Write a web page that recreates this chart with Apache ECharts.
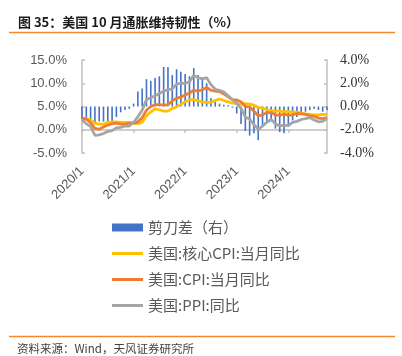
<!DOCTYPE html>
<html>
<head>
<meta charset="utf-8">
<script src="https://cdn.jsdelivr.net/npm/echarts@6/dist/echarts.min.js"></script>
<style>
html,body{margin:0;padding:0;background:#fff;}
#c{width:402px;height:356px;}
</style>
</head>
<body>
<div id="c"></div>
<script>
const months = [
  '2020/1','2020/2','2020/3','2020/4','2020/5','2020/6','2020/7','2020/8','2020/9','2020/10','2020/11','2020/12',
  '2021/1','2021/2','2021/3','2021/4','2021/5','2021/6','2021/7','2021/8','2021/9','2021/10','2021/11','2021/12',
  '2022/1','2022/2','2022/3','2022/4','2022/5','2022/6','2022/7','2022/8','2022/9','2022/10','2022/11','2022/12',
  '2023/1','2023/2','2023/3','2023/4','2023/5','2023/6','2023/7','2023/8','2023/9','2023/10','2023/11','2023/12',
  '2024/1','2024/2','2024/3','2024/4','2024/5','2024/6','2024/7','2024/8','2024/9','2024/10'
];
// 剪刀差（右）
const scissorGap = [
  -1.1,-1.2,-1.2,-1.4,-1.3,-1.3,-1.3,-1.3,-0.9,-0.5,-0.3,-0.2,
  0.25,1.3,1.55,2.35,2.2,2.45,2.6,3.4,3.4,2.7,3.2,3.0,
  2.8,2.6,3.3,2.7,2.5,2.0,0.7,0.4,0.25,0.15,0.1,-0.1,
  -0.6,-1.5,-2.1,-2.5,-2.3,-2.9,-1.75,-1.3,-1.2,-1.9,-2.2,-2.3,
  -1.75,-1.2,-0.9,-0.6,-0.45,-0.3,-0.2,-0.3,-0.45,-0.3
];
// 美国:核心CPI:当月同比
const coreCPI = [
  2.3,2.4,2.1,1.4,1.2,1.2,1.6,1.7,1.7,1.6,1.6,1.6,
  1.4,1.3,1.6,3.0,3.8,4.5,4.3,4.0,4.0,4.6,4.9,5.5,
  6.0,6.4,6.5,6.2,6.0,5.9,5.9,6.3,6.6,6.3,6.0,5.7,
  5.6,5.5,5.6,5.5,5.3,4.8,4.7,4.3,4.1,4.0,4.0,3.9,
  3.9,3.8,3.8,3.6,3.4,3.3,3.2,3.2,3.3,3.3
];
// 美国:CPI:当月同比
const cpi = [
  2.5,2.3,1.5,0.3,0.1,0.6,1.0,1.3,1.4,1.2,1.2,1.4,
  1.4,1.7,2.6,4.2,5.0,5.4,5.4,5.3,5.4,6.2,6.8,7.0,
  7.5,7.9,8.5,8.3,8.6,9.1,8.5,8.3,8.2,7.7,7.1,6.5,
  6.4,6.0,5.0,4.9,4.0,3.0,3.2,3.7,3.7,3.2,3.1,3.4,
  3.1,3.2,3.5,3.4,3.3,3.0,2.9,2.5,2.4,2.6
];
// 美国:PPI:同比
const ppi = [
  2.1,1.3,0.7,-1.2,-1.1,-0.8,-0.4,-0.2,0.4,0.5,0.8,0.8,
  1.6,2.8,4.2,6.5,6.9,7.3,7.8,8.3,8.6,8.8,9.8,10.0,
  10.0,10.3,11.7,11.2,10.9,11.2,9.7,8.7,8.5,8.1,7.3,6.4,
  5.7,4.6,2.7,2.3,1.1,0.1,0.8,1.6,2.2,1.3,0.8,1.0,
  0.9,1.6,1.8,2.2,2.4,2.6,2.1,1.7,1.8,2.4
];
const seriesNames = ['剪刀差（右）','美国:核心CPI:当月同比','美国:CPI:当月同比','美国:PPI:同比'];
const titleText = '图 35：美国 10 月通胀维持韧性（%）';
const sourceText = '资料来源：Wind，天风证券研究所';

const chart = echarts.init(document.getElementById('c'), null, {renderer:'canvas'});
const axisGray = '#BFBFBF';
const labelGray = '#595959';
const lineIcon = 'path://M0,0H31V3H0Z';
chart.setOption({
  animation: false,
  backgroundColor: '#fff',
  grid: {left: 82, right: 75, top: 60, bottom: 203, containLabel: false},
  xAxis: [
    {
      type: 'category', data: months, boundaryGap: false, position: 'bottom',
      axisLine: {show: false, onZero: false},
      axisTick: {show: false},
      axisLabel: {interval: 11, rotate: 45, margin: 16, fontSize: 13, color: labelGray, fontFamily: 'Liberation Sans'},
      splitLine: {show: false}
    },
    {
      type: 'category', data: months, boundaryGap: false, position: 'bottom',
      axisLine: {show: true, onZero: true, onZeroAxisIndex: 0, lineStyle: {color: axisGray, width: 1.5}},
      axisTick: {show: true, interval: 11, length: 3, lineStyle: {color: axisGray, width: 1.5}},
      axisLabel: {show: false},
      splitLine: {show: false}
    }
  ],
  yAxis: [
    {
      type: 'value', min: -5, max: 15, interval: 5, position: 'left',
      axisLine: {show: true, lineStyle: {color: axisGray, width: 1.5}},
      axisTick: {show: true, inside: true, length: 3, lineStyle: {color: axisGray, width: 1.5}},
      axisLabel: {margin: 15, fontSize: 13, color: labelGray, fontFamily: 'Liberation Sans', formatter: v => v.toFixed(1) + '%'},
      splitLine: {show: false}
    },
    {
      type: 'value', min: -4, max: 4, interval: 2, position: 'right',
      axisLine: {show: true, lineStyle: {color: axisGray, width: 1.5}},
      axisTick: {show: true, inside: true, length: 3, lineStyle: {color: axisGray, width: 1.5}},
      axisLabel: {margin: 13, fontSize: 14, color: '#333', fontFamily: 'Liberation Serif', formatter: v => v.toFixed(1) + '%'},
      splitLine: {show: false}
    }
  ],
  legend: {
    orient: 'vertical', left: 112, top: 220, padding: 0,
    itemWidth: 31, itemHeight: 8, itemGap: 11,
    textStyle: {fontSize: 15, color: labelGray, fontFamily: 'Noto Sans CJK SC'},
    data: [
      {name: seriesNames[0], icon: 'rect'},
      {name: seriesNames[1], icon: lineIcon},
      {name: seriesNames[2], icon: lineIcon},
      {name: seriesNames[3], icon: lineIcon}
    ]
  },
  series: [
    {name: seriesNames[0], type: 'bar', yAxisIndex: 1, xAxisIndex: 0, data: scissorGap, barWidth: 1.6,
     itemStyle: {color: '#4472C4'}},
    {name: seriesNames[1], type: 'line', yAxisIndex: 0, xAxisIndex: 0, data: coreCPI, symbol: 'none',
     lineStyle: {color: '#FFC000', width: 2.75}, itemStyle: {color: '#FFC000'}},
    {name: seriesNames[2], type: 'line', yAxisIndex: 0, xAxisIndex: 0, data: cpi, symbol: 'none',
     lineStyle: {color: '#ED7D31', width: 2.75}, itemStyle: {color: '#ED7D31'}},
    {name: seriesNames[3], type: 'line', yAxisIndex: 0, xAxisIndex: 0, data: ppi, symbol: 'none',
     lineStyle: {color: '#A5A5A5', width: 2.75}, itemStyle: {color: '#A5A5A5'}}
  ],
  graphic: [
    {type: 'text', x: 18, y: 22, style: {text: titleText, font: 'bold 13px "Noto Sans CJK SC"', fill: '#1a1a1a', verticalAlign: 'middle'}},
    {type: 'line', shape: {x1: 9, y1: 32.5, x2: 395, y2: 32.5}, style: {stroke: '#F5862A', lineWidth: 1.5}},
    {type: 'line', shape: {x1: 9, y1: 336.5, x2: 395, y2: 336.5}, style: {stroke: '#F5862A', lineWidth: 1.5}},
    {type: 'text', x: 17, y: 349, style: {text: sourceText, font: '11.5px "Noto Sans CJK SC"', fill: '#404040', verticalAlign: 'middle'}}
  ]
});
</script>
</body>
</html>
